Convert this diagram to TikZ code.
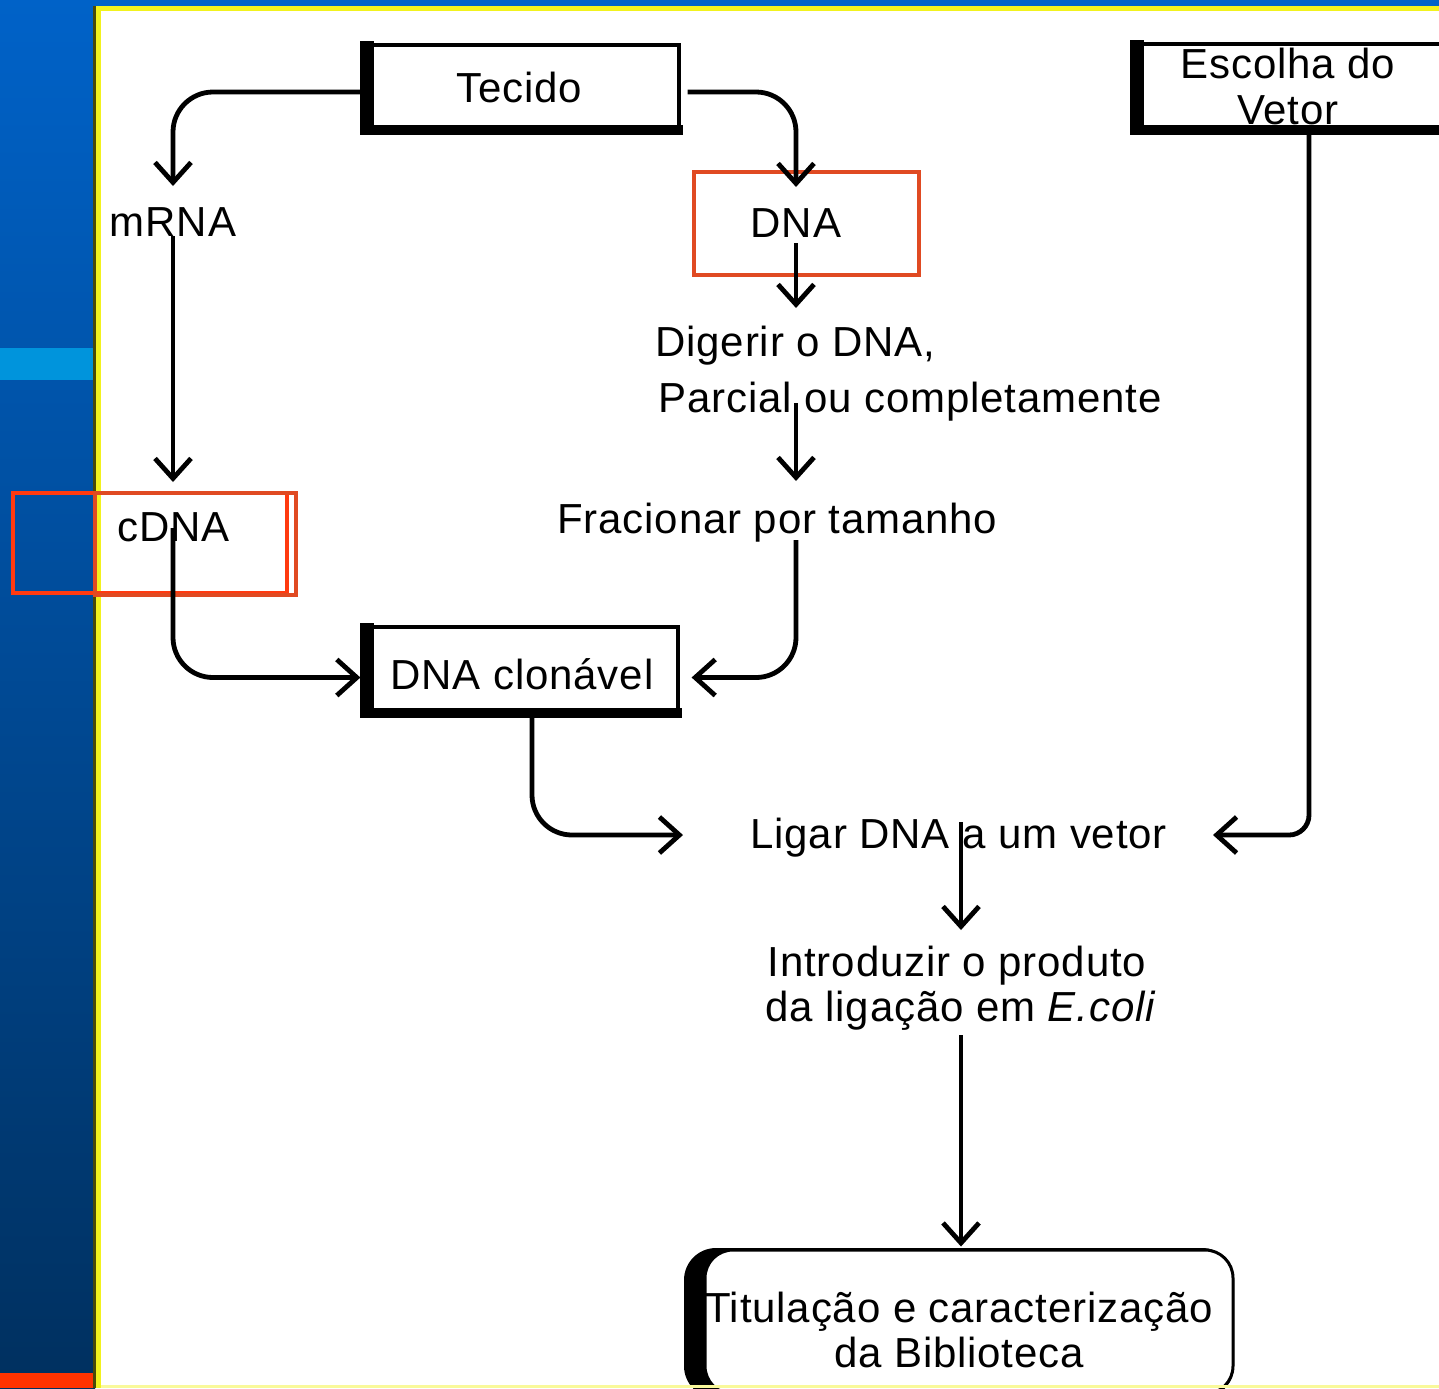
\documentclass[tikz,border=0pt]{standalone}
\usepackage{fontspec}
\setmainfont{Liberation Sans}[LetterSpace=2]
\usetikzlibrary{arrows.meta}
\definecolor{bandtop}{HTML}{0062C8}
\definecolor{bandbot}{HTML}{00305F}
\definecolor{stripe}{HTML}{0094DC}
\definecolor{redbar}{HTML}{FF3300}
\definecolor{ylw}{HTML}{F2F21E}
\definecolor{hlred}{HTML}{E04A22}
\definecolor{hlbright}{HTML}{FF3A10}
\newcommand\shbars[1]{%
  \fill ([shift={(-1pt,1pt)}]#1.north west) rectangle ([shift={(6pt,-1pt)}]#1.south west);
  \fill ([shift={(-1pt,4pt)}]#1.south west) rectangle ([shift={(1pt,-1pt)}]#1.south east);}
\begin{document}
\begin{tikzpicture}[x=0.5pt,y=-0.5pt,
  lbl/.style={inner sep=0pt, font=\fontsize{21}{25}\selectfont},
  boxn/.style={draw, line width=1.6pt, fill=white, inner sep=0pt},
  conn/.style={line width=2.4pt, rounded corners=20pt,
    -{Straight Barb[length=10pt,width=18pt,line width=2.4pt]}},
  hl/.style={line width=2pt}]
\useasboundingbox (0,0) rectangle (1439,1388);
\clip (0,0) rectangle (1439,1388);
% background
\fill[white] (0,0) rectangle (1439,1388);
\shade[top color=bandtop, bottom color=bandbot] (0,0) rectangle (95,1388);
\fill[stripe] (0,348) rectangle (95,380);
\fill[redbar] (0,1373) rectangle (95,1388);
\fill[bandtop] (95,0) rectangle (1439,6);
\fill[ylw] (95,6) rectangle (1439,11);
\fill[ylw] (95,6) rectangle (101,1388);
\fill[black!70!ylw] (93,6) rectangle (96,1388);
% boxes
\node[boxn, minimum width=157.5pt, minimum height=43pt] (tecido) at (521.5,88) {};
\shbars{tecido}
\node[boxn, minimum width=157pt, minimum height=43.5pt] (clon) at (521,670.5) {};
\shbars{clon}
\node[boxn, minimum width=163pt, minimum height=43.5pt] (escbox) at (1297,87.5) {};
\shbars{escbox}
\fill[black, rounded corners=16pt] (684,1248) rectangle (1234,1398);
\node[boxn, line width=1.5pt, rounded corners=14pt, minimum width=264pt, minimum height=72pt] (titbox) at (969,1322) {};
\fill[ylw!45] (101,1385) rectangle (1439,1388);
% texts
\node[lbl, anchor=base] (tecidot) at (519,102) {Tecido};
\node[lbl, anchor=base] (esc1) at (1288,78) {Escolha do};
\node[lbl, anchor=base] (esc2) at (1288,124) {Vetor};
\node[lbl, anchor=base] (mrna) at (173,236) {mRNA};
\node[lbl, anchor=base] (dna) at (796,237) {DNA};
\node[lbl, anchor=base west] (dig1) at (655,356) {Digerir o DNA,};
\node[lbl, anchor=base west] (dig2) at (658,412) {Parcial ou completamente};
\node[lbl, anchor=base west] (frac) at (557,533) {Fracionar por tamanho};
\node[lbl, anchor=base west] (cdna) at (117,541) {cDNA};
\node[lbl, anchor=base] (clont) at (522,689) {DNA clonável};
\node[lbl, anchor=base west] (ligar) at (750,848) {Ligar DNA a um vetor};
\node[lbl, anchor=base] (intro1) at (957,976) {Introduzir o produto};
\node[lbl, anchor=base] (intro2) at (961,1021) {da ligação em \textit{E.coli}};
\node[lbl, anchor=base] (tit1) at (959,1322) {Titulação e caracterização};
\node[lbl, anchor=base] (tit2) at (959,1367) {da Biblioteca};
% highlight boxes
\draw[hl, hlred] (694,172) rectangle (919,275);
\draw[hl, hlbright] (13,493) rectangle (287,593);
\draw[hl, hlred] (95,493) rectangle (296,595);
% connector end points
\coordinate (t1) at (173,186);
\coordinate (t2) at (796,187);
\coordinate (s3) at (796,243);
\coordinate (t3) at (796,308);
\coordinate (s4) at (796,403);
\coordinate (t4) at (796,481);
\coordinate (s5) at (796,540);
\coordinate (s6) at (173,528);
\coordinate (t7) at (173,482);
\coordinate (t8) at (683,835);
\coordinate (t9) at (1213,835);
\coordinate (s10) at (961,822);
\coordinate (t10) at (961,930);
\coordinate (s11) at (961,1035);
% connectors
\draw[conn] ([yshift=-2pt]tecido.west) -| (t1);
\draw[conn] ([shift={(3.5pt,-2pt)}]tecido.east) -| (t2);
\draw[conn] (s3) -- (t3);
\draw[conn] (mrna.south) -- (t7);
\draw[conn] (s4) -- (t4);
\draw[conn] (s5) |- ([shift={(6pt,-3.5pt)}]clon.east);
\draw[conn] (s6) |- ([shift={(-1pt,-3.5pt)}]clon.west);
\draw[conn] ([xshift=5.5pt]clon.south) |- (t8);
\draw[conn, rounded corners=10pt] ([xshift=6pt]escbox.south) |- (t9);
\draw[conn] (s10) -- (t10);
\draw[conn, shorten >=1pt] (s11) -- (s11 |- titbox.north);
\end{tikzpicture}
\end{document}
